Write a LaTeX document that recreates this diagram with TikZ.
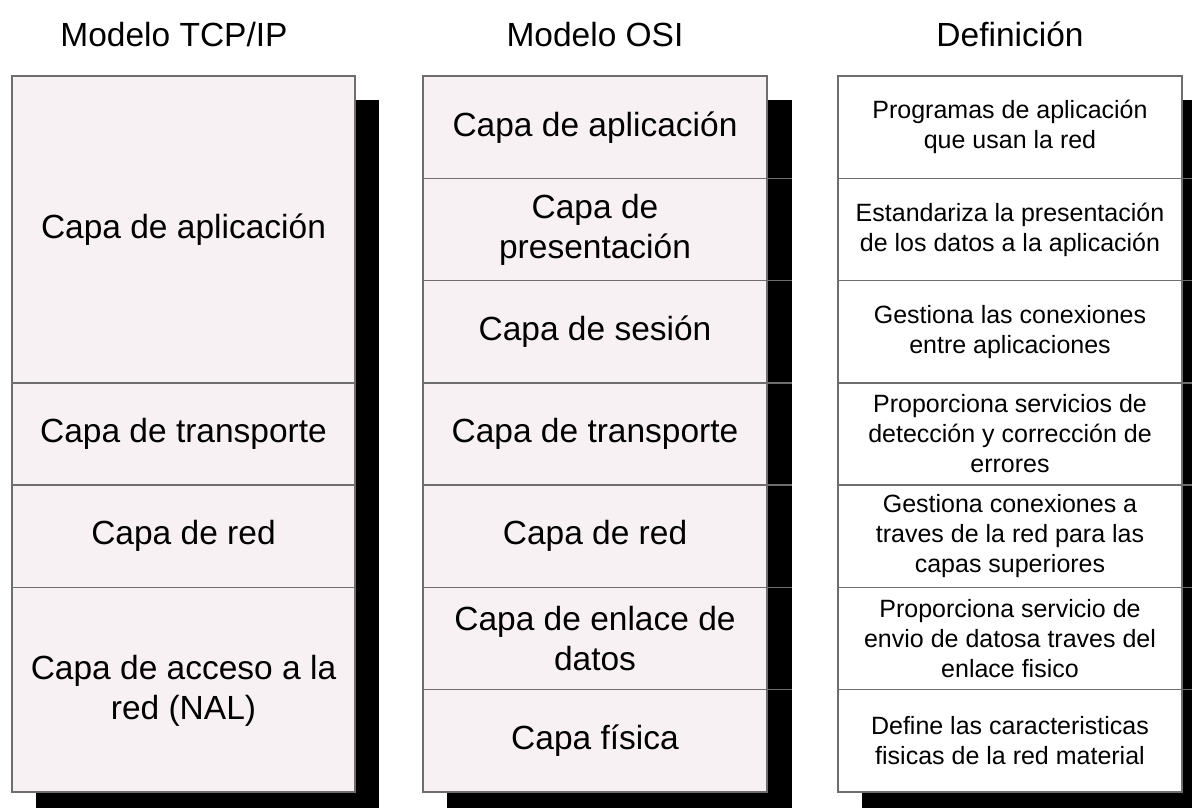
\documentclass[tikz,border=0pt]{standalone}
\usepackage{fontspec}
\setmainfont{Liberation Sans}
\definecolor{cellfill}{HTML}{F8F1F4}
\definecolor{rulecol}{HTML}{6E6E6E}
\begin{document}
\begin{tikzpicture}[x=1pt,y=-1pt,
  big/.style={font=\fontsize{33.5}{40}\selectfont, align=center, inner sep=0pt},
  small/.style={font=\fontsize{25}{30}\selectfont, align=center, inner sep=0pt},
  title/.style={font=\fontsize{33.5}{40}\selectfont, anchor=base, inner sep=0pt},
  shadowbox/.style={fill=black, draw=none},
  cell/.style={draw=rulecol, line width=1.5pt},
  divider/.style={draw=rulecol, line width=1.5pt}]
\clip (0,0) rectangle (1192,808);
\fill[white] (0,0) rectangle (1192,808);

% titles
\node[title] (ht) at (174,47) {Modelo TCP/IP};
\node[title] (ho) at (595,47) {Modelo OSI};
\node[title] (hd) at (1010,47) {Definición};

% shadows
\path[shadowbox] (36,100) rectangle (379,816);
\path[shadowbox] (447,100) rectangle (792,816);
\path[shadowbox] (862,100) rectangle (1207,816);

% boxes
\draw[cell, fill=cellfill] (12,76) rectangle (355,792);
\draw[cell, fill=cellfill] (423,76) rectangle (767,792);
\draw[cell, fill=white] (838,76) rectangle (1182,792);

% dividers
\foreach \y in {382.9,485.1,587.4} \draw[divider] (12,\y) -- (355,\y);
\foreach \y in {178.3,280.6,382.9,485.1,587.4,689.7} {
  \draw[divider] (423,\y) -- (792,\y);
  \draw[divider] (838,\y) -- (1192,\y);
}

% TCP/IP column
\node[big] (t1) at (183.5,229.5) {Capa de aplicación};
\node[big] (t2) at (183.5,434) {Capa de transporte};
\node[big] (t3) at (183.5,536.3) {Capa de red};
\node[big] (t4) at (183.5,691) {Capa de acceso a la\\red (NAL)};

% OSI column
\node[big] (o1) at (595,127.2) {Capa de aplicación};
\node[big] (o2) at (595,229.5) {Capa de\\presentación};
\node[big] (o3) at (595,331.8) {Capa de sesión};
\node[big] (o4) at (595,434) {Capa de transporte};
\node[big] (o5) at (595,536.3) {Capa de red};
\node[big] (o6) at (595,638.6) {Capa de enlace de\\datos};
\node[big] (o7) at (595,740.9) {Capa física};

% Definition column
\node[small] (d1) at (1010,127.2) {Programas de aplicación\\que usan la red};
\node[small] (d2) at (1010,229.5) {Estandariza la presentación\\de los datos a la aplicación};
\node[small] (d3) at (1010,331.8) {Gestiona las conexiones\\entre aplicaciones};
\node[small] (d4) at (1010,434) {Proporciona servicios de\\detección y corrección de\\errores};
\node[small] (d5) at (1010,536.3) {Gestiona conexiones a\\traves de la red para las\\capas superiores};
\node[small] (d6) at (1010,638.6) {Proporciona servicio de\\envio de datosa traves del\\enlace fisico};
\node[small] (d7) at (1010,740.9) {Define las caracteristicas\\fisicas de la red material};
\end{tikzpicture}
\end{document}
